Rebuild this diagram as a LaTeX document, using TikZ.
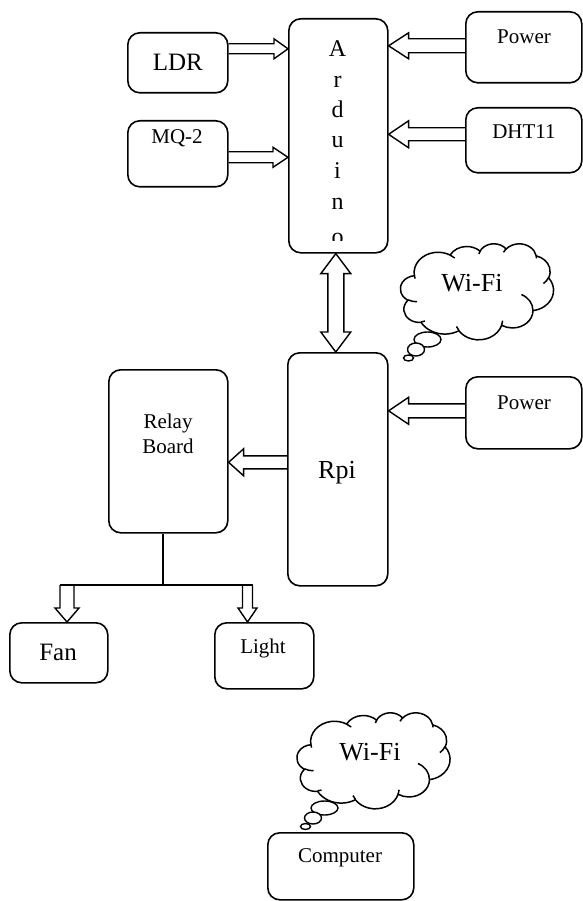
\documentclass[tikz,border=0pt]{standalone}
\usepackage{fontspec}
\setmainfont{Liberation Serif}
\usetikzlibrary{calc,shapes.geometric}
\tikzset{
  box/.style={draw, line width=1.6pt, rounded corners=12pt, inner sep=0pt, anchor=north west},
  arrline/.style={draw, line width=1.4pt, line join=miter},
  cloudline/.style={draw, line width=1.5pt},
  lbl/.style={inner sep=0pt, font=\fontsize{21}{25}\selectfont},
  biglbl/.style={inner sep=0pt, font=\fontsize{25}{30}\selectfont},
  bubble/.style={ellipse, draw, line width=1.4pt, fill=white, inner sep=0pt},
  declare function={vang(\w,\h,\a)=atan2(\w*sin(\a),\h*cos(\a));
                    dfix(\d,\s)=\d+360*(\s>0)*(\d<0)-360*(\s<0)*(\d>0);}
}
% horizontal block arrow: #1 tail, #2 target (x used), #3 shaft half width, #4 head half width, #5 head length
\newcommand\harr[5]{%
\draw[arrline] let \p1=(#1), \p2=(#2), \n1={ifthenelse(\x2>\x1,1,-1)} in
 (\x1,\y1+#3) -- (\x2-\n1*#5,\y1+#3) -- (\x2-\n1*#5,\y1+#4) -- (\x2,\y1) -- (\x2-\n1*#5,\y1-#4) -- (\x2-\n1*#5,\y1-#3) -- (\x1,\y1-#3);}
% vertical block arrow: #1 tail, #2 target (y used)
\newcommand\varr[5]{%
\draw[arrline] let \p1=(#1), \p2=(#2), \n1={ifthenelse(\y2>\y1,1,-1)} in
 (\x1+#3,\y1) -- (\x1+#3,\y2-\n1*#5) -- (\x1+#4,\y2-\n1*#5) -- (\x1,\y2) -- (\x1-#4,\y2-\n1*#5) -- (\x1-#3,\y2-\n1*#5) -- (\x1-#3,\y1);}
% elliptic arc given by visual start angle and sweep
\newcommand\oarc[4]{arc[x radius=#1, y radius=#2, start angle={vang(#1,#2,#3)}, delta angle={dfix(vang(#1,#2,#3+#4)-vang(#1,#2,#3),#4)}]}
% cloud: #1,#2 top-left, #3 xscale, #4 yscale
\newcommand\wordcloud[4]{%
\begin{scope}[shift={(#1,#2)}, xscale=#3, yscale=#4]
\draw[cloudline, fill=white] (39.00,143.70)
 \oarc{67.53}{91.90}{-190.4875}{123.7805}
 \oarc{53.33}{72.67}{-144.1024}{89.9452}
 \oarc{43.65}{59.45}{-145.8079}{99.7230}
 \oarc{48.57}{65.95}{-130.9861}{117.2417}
 \oarc{53.33}{72.73}{-78.7089}{109.0269}
 \oarc{67.75}{92.20}{-46.2673}{130.2690}
 \oarc{57.85}{78.67}{0.6250}{114.0333}
 \oarc{67.52}{92.15}{22.4516}{115.1726}
 \oarc{77.20}{105.43}{66.2426}{75.7110}
 \oarc{43.60}{59.18}{-274.9421}{146.7356}
 \oarc{43.45}{59.45}{-246.8285}{152.5189} -- cycle;
\draw[cloudline]
 (46.93,261.77) \oarc{43.45}{59.45}{86.7420}{26.4295}
 (69.28,348.99) \oarc{43.60}{59.18}{73.6105}{11.4475}
 (164.78,390.90) \oarc{67.52}{92.15}{137.6242}{14.0811}
 (288.27,347.51) \oarc{67.52}{92.15}{6.4533}{15.9984}
 (341.29,229.54) \oarc{57.85}{78.67}{-70.2924}{70.9174}
 (417.98,153.54) \oarc{53.33}{72.73}{30.3180}{27.7515}
 (383.24,54.26) \oarc{48.57}{65.95}{-13.7443}{14.8589}
 (290.78,39.52) \oarc{48.57}{65.95}{-149.1815}{18.1954}
 (221.41,47.20) \oarc{43.65}{59.45}{-163.4943}{17.8439}
 (140.00,51.92) \oarc{67.53}{91.90}{-66.7070}{12.3194}
 (41.27,157.89) \oarc{67.53}{91.90}{157.6544}{11.8582};
\end{scope}}
\begin{document}
\begin{tikzpicture}[x=1pt,y=-1pt]
\useasboundingbox (0,0) rectangle (582,901);
% boxes
\node[box, minimum width=100pt, minimum height=60pt] (ldr) at (127,32) {};
\node[biglbl] (ldrt) at (ldr.center) {LDR};
\node[box, minimum width=100pt, minimum height=66pt] (mq) at (127,120) {};
\node[lbl] (mqt) at (177,138) {MQ-2};
\node[box, minimum width=99pt, minimum height=234pt] (ard) at (288,18) {};
\begin{scope}
\clip (288,18) rectangle (387,240);
\foreach \l/\yy [count=\i] in {A/57,r/88,d/118,u/148,i/179,n/210,o/244}
  \node[anchor=base, inner sep=0pt, font=\fontsize{24}{28}\selectfont] (ard\i) at (337.5,\yy) {\l};
\end{scope}
\node[box, minimum width=116pt, minimum height=71pt] (pw1) at (465,11) {};
\node[lbl] (pw1t) at (524,37) {Power};
\node[box, minimum width=116pt, minimum height=65pt] (dht) at (465,107) {};
\node[lbl] (dhtt) at (524,132) {DHT11};
\node[box, minimum width=100pt, minimum height=233pt] (rpi) at (287,352) {};
\node[inner sep=0pt, font=\fontsize{26}{30}\selectfont] (rpit) at (337,473) {Rpi};
\node[box, minimum width=116pt, minimum height=72pt] (pw2) at (465,376) {};
\node[lbl] (pw2t) at (524,403) {Power};
\node[box, minimum width=119pt, minimum height=163pt] (relay) at (108,369) {};
\node[lbl, align=center] (relayt) at (168,434) {Relay\\Board};
\node[box, minimum width=98pt, minimum height=60pt] (fan) at (9,622) {};
\node[biglbl] (fant) at (58,652) {Fan};
\node[box, minimum width=99pt, minimum height=66pt] (light) at (214,622) {};
\node[lbl] (lightt) at (263,648) {Light};
\node[box, minimum width=146pt, minimum height=67pt] (comp) at (267,832) {};
\node[lbl] (compt) at (340,858) {Computer};
% clouds
\wordcloud{400.5}{243.5}{0.3542}{0.2222}
\coordinate (wifi1) at (477,291.5);
\node[bubble, minimum width=27pt, minimum height=15pt] (w1b1) at ($(wifi1)+(-49.5,48)$) {};
\node[bubble, minimum width=17pt, minimum height=13pt] (w1b2) at ($(wifi1)+(-61,58)$) {};
\node[bubble, minimum width=10pt, minimum height=6pt] (w1b3) at ($(wifi1)+(-68.5,66.5)$) {};
\node[inner sep=0pt, font=\fontsize{26}{30}\selectfont] (wifi1t) at (472,283) {Wi-Fi};
\wordcloud{297}{712.5}{0.3542}{0.2222}
\coordinate (wifi2) at (374,760);
\node[bubble, minimum width=27pt, minimum height=14pt] (w2b1) at ($(wifi2)+(-49.5,48)$) {};
\node[bubble, minimum width=17pt, minimum height=12pt] (w2b2) at ($(wifi2)+(-61,58)$) {};
\node[bubble, minimum width=10pt, minimum height=6pt] (w2b3) at ($(wifi2)+(-68.5,66.5)$) {};
\node[inner sep=0pt, font=\fontsize{26}{30}\selectfont] (wifi2t) at (370,752) {Wi-Fi};
% arrows into Arduino
\harr{$(ldr.east)+(0,-14)$}{ard.west}{5pt}{10pt}{14pt}
\harr{$(mq.east)+(0,3.5)$}{ard.west}{5.5pt}{10pt}{15pt}
\harr{$(pw1.west)+(0,-1.5)$}{ard.east}{7pt}{13pt}{20pt}
\harr{$(dht.west)+(0,-6)$}{ard.east}{6.5pt}{13.5pt}{20pt}
\harr{$(pw2.west)+(0,-2)$}{rpi.east}{7pt}{13.5pt}{20pt}
\harr{$(rpi.west)+(0,-7)$}{relay.east}{6.5pt}{13.5pt}{15pt}
% double arrow Arduino <-> Rpi
\coordinate (dtop) at ($(ard.south)+(-2.5,0)$);
\draw[arrline] let \p1=(dtop), \p2=(rpi.north) in
 (\x1,\y1) -- (\x1+15pt,\y1-20pt) -- (\x1+8pt,\y1-20pt) -- (\x1+8pt,\y2+20pt) -- (\x1+15pt,\y2+20pt) -- (\x1,\y2)
 -- (\x1-15pt,\y2+20pt) -- (\x1-8pt,\y2+20pt) -- (\x1-8pt,\y1-20pt) -- (\x1-15pt,\y1-20pt) -- cycle;
% relay outputs
\coordinate (junc) at (163,585);
\coordinate (fantop) at (67,585);
\coordinate (lighttop) at (247.5,585);
\draw[arrline] (relay.south -| junc) -- (junc);
\draw[arrline] ($(fantop)+(-7,0)$) -- ($(lighttop)+(5,0)$);
\varr{fantop}{fan.north}{7pt}{12pt}{14pt}
\varr{lighttop}{light.north}{5pt}{9.5pt}{14pt}
\end{tikzpicture}
\end{document}
